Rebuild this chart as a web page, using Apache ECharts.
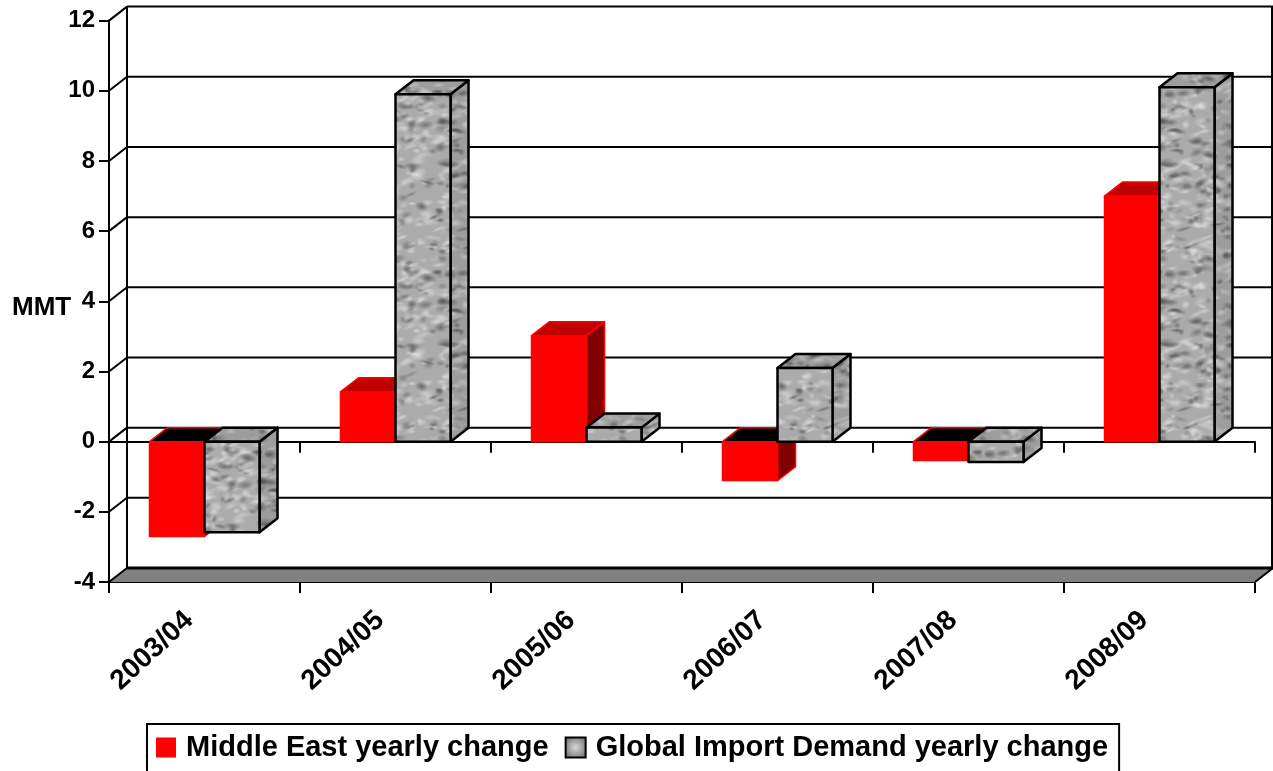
<!DOCTYPE html>
<html>
<head>
<meta charset="utf-8">
<title>Middle East and global import demand yearly change</title>
<script src="https://cdn.jsdelivr.net/npm/echarts@6/dist/echarts.min.js"></script>
<style>
  html, body { margin: 0; padding: 0; background: #fff; overflow: hidden; }
  #chart { width: 1273px; height: 771px; }
</style>
</head>
<body>
<div id="chart"></div>
<script>
const categories = ["2003/04", "2004/05", "2005/06", "2006/07", "2007/08", "2008/09"];
const middleEast = [-2.7, 1.42, 3.02, -1.11, -0.54, 7.0];
const globalImport = [-2.58, 9.9, 0.4, 2.1, -0.58, 10.1];
const yTicks = [-4, -2, 0, 2, 4, 6, 8, 10, 12];

const FONT = "'Liberation Sans', Arial, sans-serif";
const DEPTH_X = 18;
const DEPTH_Y = -14;
const BAR_SHARE = 0.288;

// mottled grey fill for the second series, seeded so every run looks the same
function makeGranite() {
  const size = 180;
  const canvas = document.createElement("canvas");
  canvas.width = size;
  canvas.height = size;
  const ctx = canvas.getContext("2d");
  ctx.fillStyle = "#ababab";
  ctx.fillRect(0, 0, size, size);
  let seed = 20304;
  const next = () => {
    seed = (seed * 16807) % 2147483647;
    return seed / 2147483647;
  };
  for (let i = 0; i < 620; i++) {
    const x = next() * size;
    const y = next() * size;
    const rx = 3 + next() * 7;
    const ry = 2 + next() * 3;
    const tilt = (next() - 0.6) * 0.8;
    const dark = next() < 0.42;
    const alpha = 0.3 + next() * 0.45;
    [-size, 0, size].forEach((ox) => {
      [-size, 0, size].forEach((oy) => {
        if (x + ox < -12 || x + ox > size + 12 || y + oy < -12 || y + oy > size + 12) return;
        ctx.save();
        ctx.translate(x + ox, y + oy);
        ctx.rotate(tilt);
        ctx.scale(rx, ry);
        const g = ctx.createRadialGradient(0, 0, 0, 0, 0, 1);
        const rgb = dark ? "78,78,78" : "228,228,228";
        g.addColorStop(0, "rgba(" + rgb + "," + alpha + ")");
        g.addColorStop(1, "rgba(" + rgb + ",0)");
        ctx.fillStyle = g;
        ctx.beginPath();
        ctx.arc(0, 0, 1, 0, Math.PI * 2);
        ctx.fill();
        ctx.restore();
      });
    });
  }
  return canvas;
}

const graniteFill = { image: makeGranite(), repeat: "repeat" };

function poly(points, style) {
  return { type: "polygon", shape: { points }, style };
}

function line(x1, y1, x2, y2, width) {
  return {
    type: "line",
    shape: { x1, y1, x2, y2 },
    style: { stroke: "#000", lineWidth: width || 2 },
  };
}

// back wall, side wall and floor, one group per y tick
function renderWall(params, api) {
  const value = api.value(0);
  const box = params.coordSys;
  const left = box.x;
  const right = box.x + box.width;
  const y = api.coord([0, value])[1];
  const children = [];
  if (value === yTicks[0]) {
    const top = api.coord([0, yTicks[yTicks.length - 1]])[1];
    children.push(
      poly(
        [
          [left, y],
          [right, y],
          [right + DEPTH_X, y + DEPTH_Y],
          [left + DEPTH_X, y + DEPTH_Y],
        ],
        { fill: "#808080" }
      ),
      line(left + DEPTH_X, y + DEPTH_Y, right + DEPTH_X, y + DEPTH_Y, 3),
      line(right, y, right + DEPTH_X, y + DEPTH_Y),
      line(left + DEPTH_X, top + DEPTH_Y, left + DEPTH_X, y + DEPTH_Y),
      line(right + DEPTH_X - 1, top + DEPTH_Y, right + DEPTH_X - 1, y + DEPTH_Y)
    );
  } else {
    children.push(line(left + DEPTH_X, y + DEPTH_Y, right + DEPTH_X, y + DEPTH_Y));
  }
  children.push(line(left, y, left + DEPTH_X, y + DEPTH_Y));
  return { type: "group", children };
}

function barFaces(api, isLeft) {
  const cat = api.value(0);
  const value = api.value(1);
  const width = api.size([1, 0])[0] * BAR_SHARE;
  const center = api.coord([cat, 0])[0];
  const x0 = isLeft ? center - width : center;
  const x1 = x0 + width;
  const yValue = api.coord([cat, value])[1];
  const yZero = api.coord([cat, 0])[1];
  const top = Math.min(yValue, yZero);
  const bottom = Math.max(yValue, yZero);
  return {
    value,
    front: [[x0, top], [x1, top], [x1, bottom], [x0, bottom]],
    side: [
      [x1, top],
      [x1 + DEPTH_X, top + DEPTH_Y],
      [x1 + DEPTH_X, bottom + DEPTH_Y],
      [x1, bottom],
    ],
    cap: [
      [x0, top],
      [x0 + DEPTH_X, top + DEPTH_Y],
      [x1 + DEPTH_X, top + DEPTH_Y],
      [x1, top],
    ],
  };
}

function renderRedBar(params, api) {
  const f = barFaces(api, true);
  const edge = { stroke: "#ff0000", lineWidth: 1.5, lineJoin: "round" };
  return {
    type: "group",
    children: [
      poly(f.side, Object.assign({ fill: "#800000" }, edge)),
      poly(f.cap, Object.assign({ fill: f.value < 0 ? "#000000" : "#c00000" }, edge)),
      poly(f.front, Object.assign({ fill: "#ff0000" }, edge)),
    ],
  };
}

function renderGreyBar(params, api) {
  const f = barFaces(api, false);
  const edge = { stroke: "#000", lineWidth: 2.5, lineJoin: "round" };
  return {
    type: "group",
    children: [
      poly(f.side, Object.assign({ fill: graniteFill }, edge)),
      poly(f.side, { fill: "rgba(0,0,0,0.08)" }),
      poly(f.cap, Object.assign({ fill: graniteFill }, edge)),
      poly(f.cap, { fill: "rgba(0,0,0,0.08)" }),
      poly(f.front, Object.assign({ fill: graniteFill }, edge)),
    ],
  };
}

const chart = echarts.init(document.getElementById("chart"), null, { renderer: "canvas" });

const axisLine = { lineStyle: { color: "#000", width: 2 } };

chart.setOption({
  animation: false,
  backgroundColor: "#fff",
  title: {
    text: "MMT",
    left: 12,
    top: 295,
    padding: 0,
    textStyle: { fontFamily: FONT, fontWeight: "bold", fontSize: 26, color: "#000" },
  },
  legend: {
    left: 147,
    top: 724,
    padding: [9, 11, 12, 9],
    borderColor: "#000",
    borderWidth: 2,
    backgroundColor: "#fff",
    itemWidth: 20,
    itemHeight: 20,
    itemGap: 16,
    textStyle: {
      fontFamily: FONT,
      fontWeight: "bold",
      fontSize: 29,
      color: "#000",
      padding: [0, 0, 0, 5],
    },
    data: [
      { name: "Middle East yearly change", icon: "rect", itemStyle: { color: "#ff0000" } },
      {
        name: "Global Import Demand yearly change",
        icon: "rect",
        itemStyle: {
          color: {
            type: "radial",
            x: 0.5,
            y: 0.5,
            r: 0.6,
            colorStops: [
              { offset: 0, color: "#d8d8d8" },
              { offset: 1, color: "#6e6e6e" },
            ],
          },
          borderColor: "#000",
          borderWidth: 2,
        },
      },
    ],
  },
  grid: { left: 109, right: 18, top: 20.6, height: 561.4, containLabel: false },
  xAxis: [
    {
      type: "category",
      data: categories,
      position: "bottom",
      axisLine: Object.assign({ onZero: false }, axisLine),
      axisTick: { show: true, length: 11, lineStyle: { color: "#000", width: 2 } },
      axisLabel: {
        interval: 0,
        rotate: 43,
        margin: 20,
        padding: [0, 21, 0, 0],
        fontFamily: FONT,
        fontWeight: "bold",
        fontSize: 28,
        color: "#000",
      },
    },
    {
      type: "category",
      data: categories,
      position: "bottom",
      axisLine: Object.assign({ onZero: true }, axisLine),
      axisTick: { show: true, length: 11, lineStyle: { color: "#000", width: 2 } },
      axisLabel: { show: false },
    },
  ],
  yAxis: {
    type: "value",
    min: -4,
    max: 12,
    interval: 2,
    axisLine: Object.assign({ show: true, onZero: false }, axisLine),
    axisTick: { show: true, length: 10, lineStyle: { color: "#000", width: 2 } },
    splitLine: { show: false },
    axisLabel: {
      margin: 14,
      padding: [2, 0, 0, 0],
      fontFamily: FONT,
      fontWeight: "bold",
      fontSize: 24,
      color: "#000",
    },
  },
  series: [
    {
      type: "custom",
      name: "wall",
      silent: true,
      z: 1,
      renderItem: renderWall,
      encode: { y: 0 },
      data: yTicks.map((v) => [v]),
    },
    {
      type: "custom",
      name: "Middle East yearly change",
      z: 2,
      renderItem: renderRedBar,
      itemStyle: { color: "#ff0000" },
      encode: { x: 0, y: 1 },
      data: middleEast.map((v, i) => [i, v]),
    },
    {
      type: "custom",
      name: "Global Import Demand yearly change",
      z: 3,
      renderItem: renderGreyBar,
      itemStyle: { color: "#a8a8a8" },
      encode: { x: 0, y: 1 },
      data: globalImport.map((v, i) => [i, v]),
    },
  ],
});
</script>
</body>
</html>
